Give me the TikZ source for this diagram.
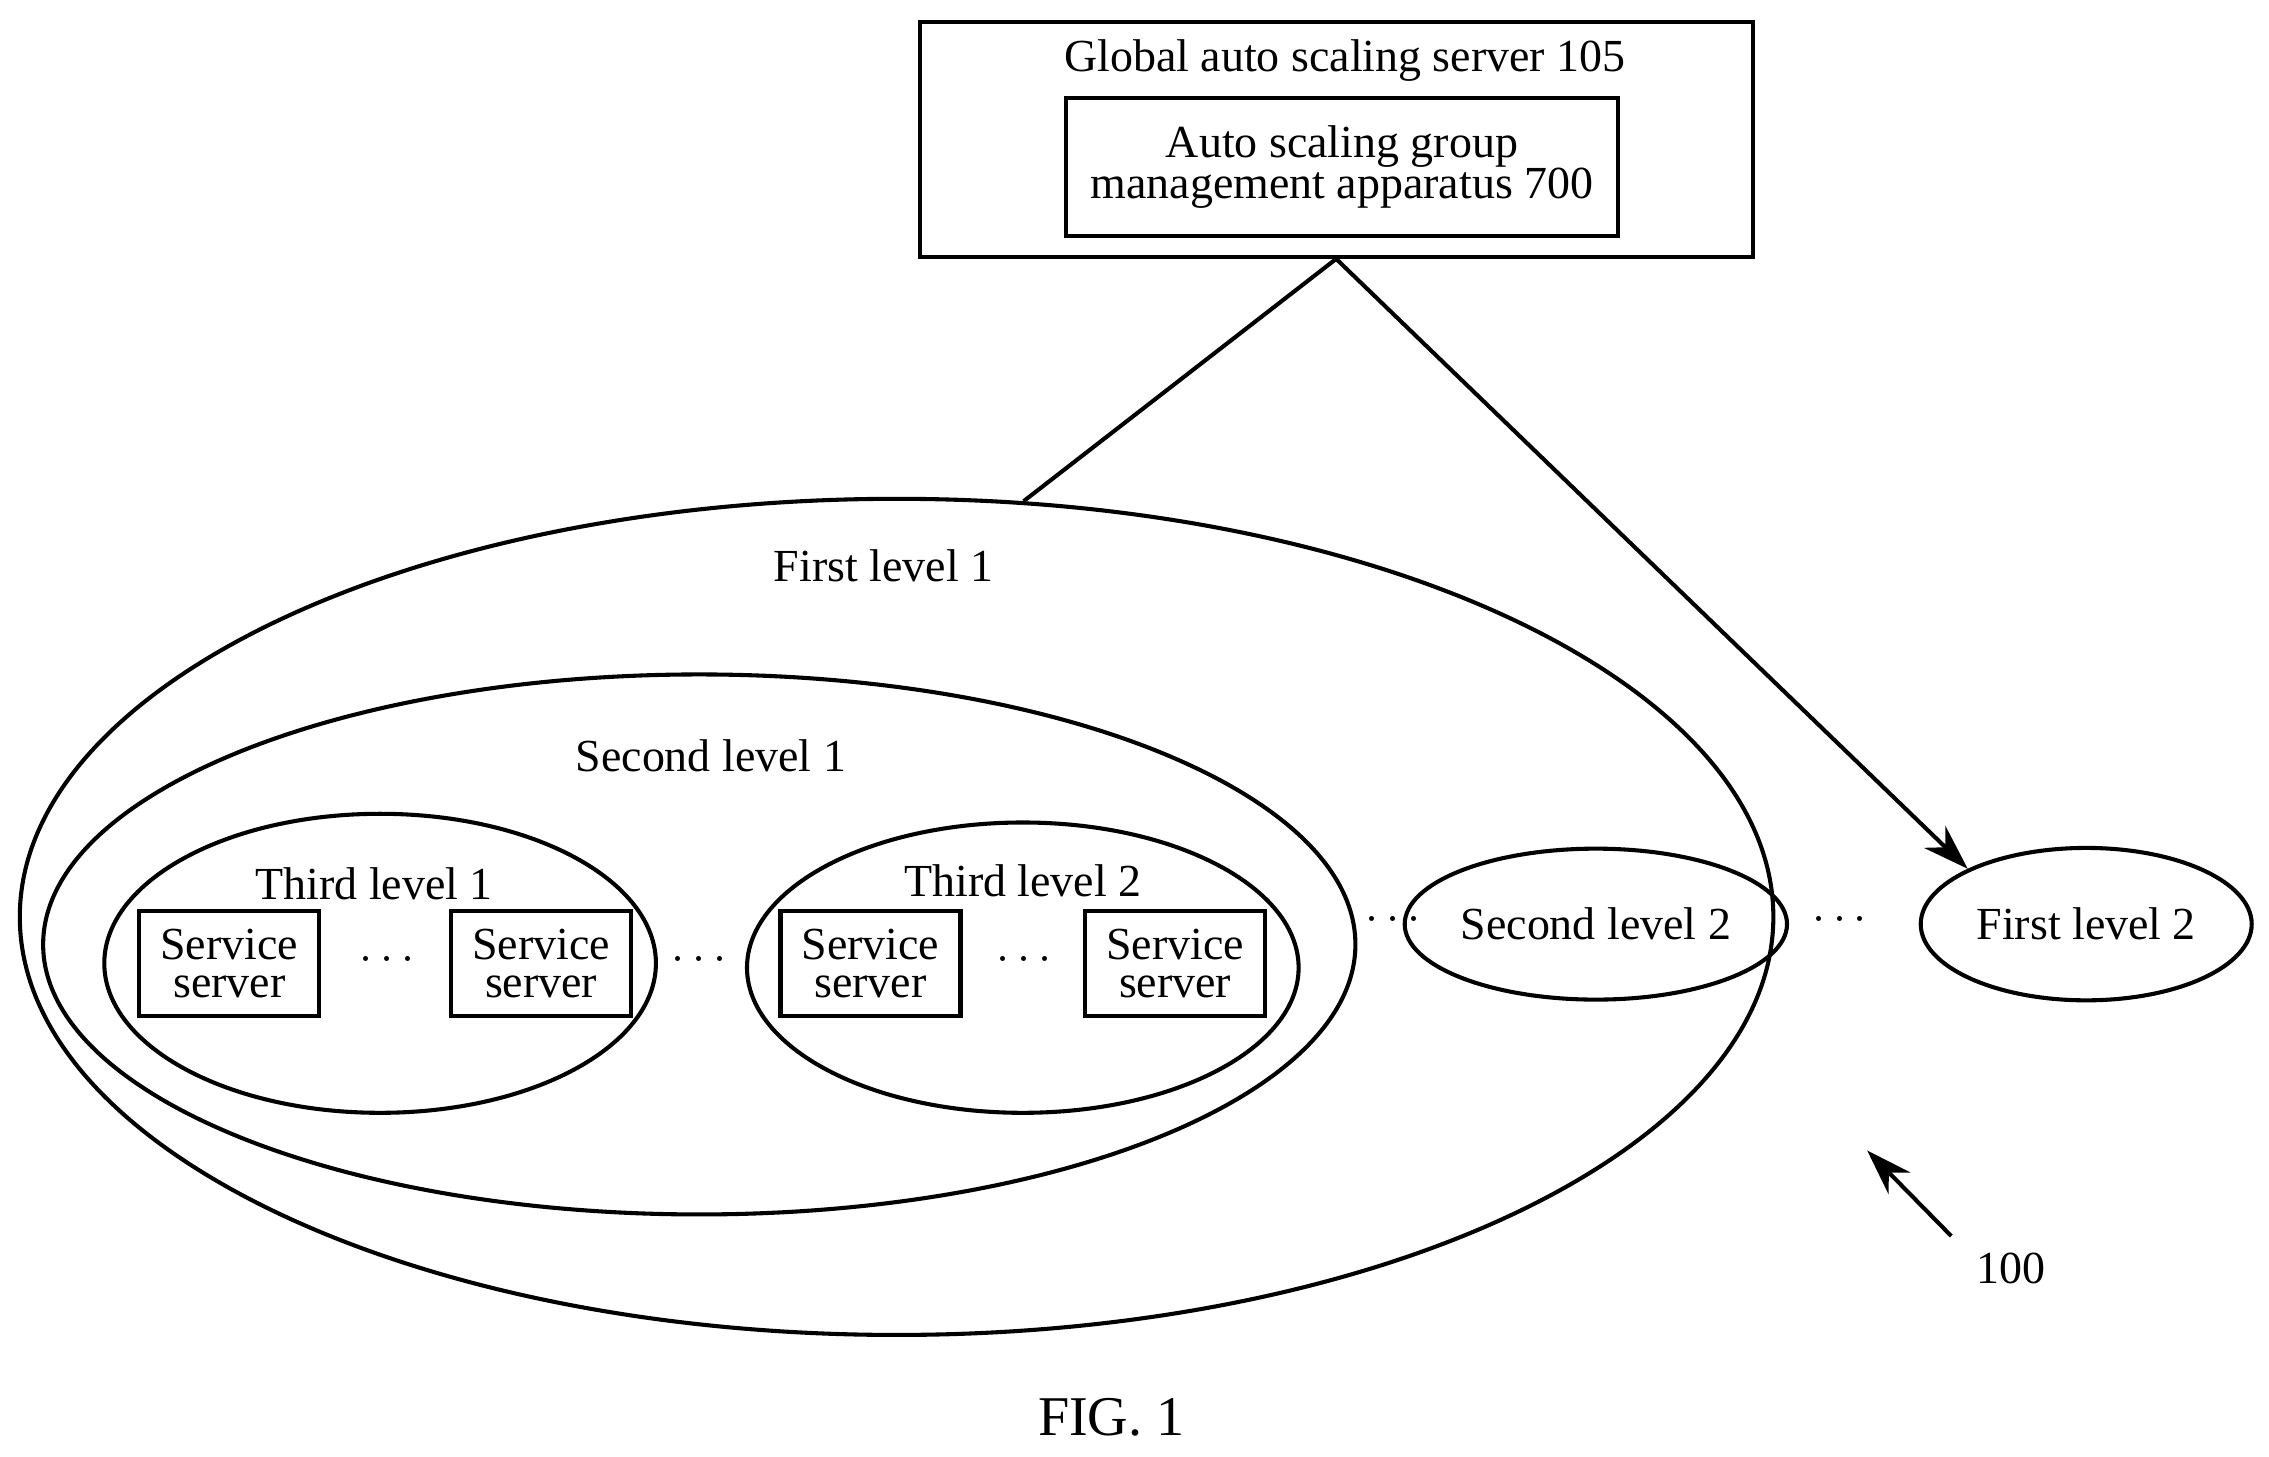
\documentclass[tikz,border=0pt]{standalone}
\usepackage{fontspec}
\setmainfont{Liberation Serif}
\usetikzlibrary{shapes.geometric,arrows.meta}
\tikzset{
  lvl/.style={draw, ellipse, inner sep=0pt, line width=0.8pt},
  box/.style={draw, rectangle, line width=0.8pt, align=center},
  srv/.style={box, minimum width=1.24cm, minimum height=0.72cm, inner sep=0pt, font=\fontsize{9}{9.5}\selectfont},
  txt/.style={font=\fontsize{9}{10}\selectfont},
}
\begin{document}
\begin{tikzpicture}[x=0.01cm, y=-0.01cm, txt, line width=0.8pt]
\useasboundingbox (0,0) rectangle (1564,1004);

% global server
\node[box, minimum width=5.74cm, minimum height=1.62cm] (gass) at (921,96) {};
\node[txt] (gasst) at (927,42) {Global auto scaling server 105};
\node[box, minimum width=3.8cm, minimum height=0.95cm, inner sep=0pt] (asgm) at (925,115)
  {Auto scaling group\\[-2pt]management apparatus 700};

% levels
\node[lvl, minimum width=12.08cm, minimum height=5.76cm] (L1) at (618,632) {};
\node[txt] (L1t) at (609,390) {First level 1};
\node[lvl, minimum width=9.04cm, minimum height=3.72cm] (L2) at (482,651) {};
\node[txt] (L2t) at (490,521) {Second level 1};
\node[lvl, minimum width=3.8cm, minimum height=2.06cm] (T1) at (262,664) {};
\node[txt] (T1t) at (258,609) {Third level 1};
\node[lvl, minimum width=3.8cm, minimum height=2.0cm] (T2) at (705,667) {};
\node[txt] (T2t) at (705,607) {Third level 2};

\node[srv] (s1) at (158,664) {Service\\[-2pt]server};
\node[srv] (s2) at (373,664) {Service\\[-2pt]server};
\node[srv] (s3) at (600,664) {Service\\[-2pt]server};
\node[srv] (s4) at (810,664) {Service\\[-2pt]server};

\node (d1) at (267,662) {$\cdots$};
\node (d2) at (482,662) {$\cdots$};
\node (d3) at (706,662) {$\cdots$};
\node (d4) at (960,634) {$\cdots$};
\node (d5) at (1268,634) {$\cdots$};

\node[lvl, minimum width=2.28cm, minimum height=1.04cm] (S2) at (1100,637) {Second level 2};
\node[lvl, minimum width=2.28cm, minimum height=1.05cm] (F2) at (1438,637) {First level 2};

% connectors
\draw (gass.south) -- (L1.73);
\draw[-{Stealth[length=9pt,width=6pt]}] (gass.south) -- (F2.north west);

\coordinate (r0) at (1345,852);
\coordinate (r1) at (1287,793);
\draw[-{Stealth[length=9pt,width=6pt]}] (r0) -- (r1);
\node[txt] (ref) at (1386,874) {100};
\node[font=\fontsize{11}{12}\selectfont] (fig) at (766,977) {FIG. 1};
\end{tikzpicture}
\end{document}
